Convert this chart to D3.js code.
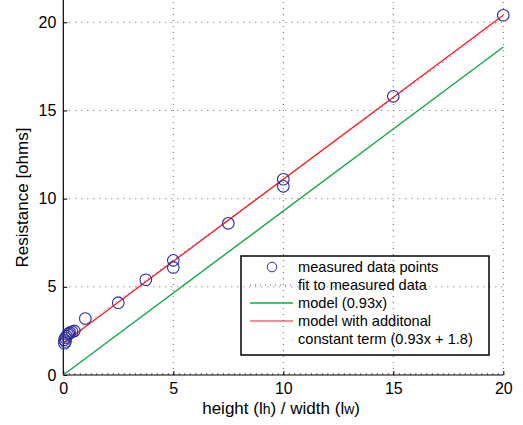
<!DOCTYPE html>
<html>
<head>
<meta charset="utf-8">
<script src="https://cdn.jsdelivr.net/npm/d3@7"></script>
<style>
  body { margin: 0; background: #fff; }
  svg { font-family: "Liberation Sans", Arial, sans-serif; }
</style>
</head>
<body>
<svg width="523" height="425"></svg>
<script>
// measured points (aspect ratio lh/lw, resistance in ohms)
const measX = [0.05, 0.05, 0.1, 0.1, 0.15, 0.2, 0.25, 0.3, 0.4, 0.5, 1, 2.5, 3.75, 5, 5, 7.5, 10, 10, 15, 20];
const measY = [1.8, 2.0, 1.9, 2.1, 2.2, 2.3, 2.35, 2.4, 2.45, 2.5, 3.2, 4.1, 5.4, 6.5, 6.1, 8.6, 11.1, 10.7, 15.8, 20.4];
const xTicks = [0, 5, 10, 15, 20];
const yTicks = [0, 5, 10, 15, 20];
const fitCoef = [0.915, 1.95]; // fit to measured data
const modelCoef = [0.93, 0]; // model (0.93x)
const modelConstCoef = [0.93, 1.8]; // with constant term
const legendLabels = ['measured data points', 'fit to measured data', 'model (0.93x)', 'model with additonal', 'constant term (0.93x + 1.8)'];

const svg = d3.select('svg');
const x = d3.scaleLinear().domain([0, 20]).range([63.3, 503.3]);
const y = d3.scaleLinear().domain([0, 20]).range([375, 22.3]);
const yTop = y.invert(0);

const grid = svg.append('g');
// dotted grid
grid.selectAll('.gx')
  .data(xTicks.filter(d => d > 0))
  .enter().append('line')
  .attr('x1', d => x(d)).attr('x2', d => x(d))
  .attr('y1', y(0)).attr('y2', y(yTop))
  .attr('stroke', '#666').attr('stroke-width', 1)
  .attr('stroke-dasharray', '1,5');
grid.selectAll('.gy')
  .data(yTicks.filter(d => d > 0))
  .enter().append('line')
  .attr('x1', x(0)).attr('x2', x(20))
  .attr('y1', d => y(d)).attr('y2', d => y(d))
  .attr('stroke', '#666').attr('stroke-width', 1)
  .attr('stroke-dasharray', '1,5');

// x axis with minor ticks
const xAxis = svg.append('g').attr('transform', `translate(0,${y(0)})`);
xAxis.call(d3.axisBottom(x).tickValues(d3.range(0, 20.01, 0.25)).tickSize(-2).tickFormat(''));
xAxis.select('.domain').remove();
xAxis.selectAll('line').attr('stroke', '#000').attr('stroke-width', 0.6);
const xMajor = svg.append('g').attr('transform', `translate(0,${y(0)})`);
xMajor.call(d3.axisBottom(x).tickValues(xTicks).tickSize(-4).tickPadding(8));
xMajor.select('.domain').remove();
xMajor.selectAll('text').attr('font-size', 16).attr('fill', '#000').attr('font-family', 'Liberation Sans, Arial, sans-serif');

const yAxis = svg.append('g').attr('transform', `translate(${x(0)},0)`);
yAxis.call(d3.axisLeft(y).tickValues(yTicks).tickSize(-4).tickPadding(7));
yAxis.select('.domain').remove();
yAxis.selectAll('text').attr('font-size', 16).attr('fill', '#000').attr('font-family', 'Liberation Sans, Arial, sans-serif');

// axis lines
svg.append('line').attr('x1', x(0)).attr('x2', x(20)).attr('y1', y(0)).attr('y2', y(0))
  .attr('stroke', '#000').attr('stroke-width', 1.2);
svg.append('line').attr('x1', x(0)).attr('x2', x(0)).attr('y1', y(0)).attr('y2', y(yTop))
  .attr('stroke', '#000').attr('stroke-width', 1.2);

const line = d3.line().x(d => x(d[0])).y(d => y(d[1]));
const linePts = c => [[0, c[1]], [20, c[0] * 20 + c[1]]];

svg.append('path').attr('d', line(linePts(modelCoef)))
  .attr('stroke', '#10a84a').attr('stroke-width', 1.4).attr('fill', 'none');
svg.append('path').attr('d', line(linePts(fitCoef)))
  .attr('stroke', '#5b5bd0').attr('stroke-width', 1).attr('stroke-dasharray', '1,4').attr('fill', 'none');
svg.append('path').attr('d', line(linePts(modelConstCoef)))
  .attr('stroke', '#ff1a1a').attr('stroke-width', 1.3).attr('fill', 'none');

svg.selectAll('.pt')
  .data(measX.map((d, i) => [d, measY[i]]))
  .enter().append('circle')
  .attr('cx', d => x(d[0])).attr('cy', d => y(d[1]))
  .attr('r', 5.8)
  .attr('fill', 'none').attr('stroke', '#2c2ea0').attr('stroke-width', 1.1);

// axis labels
svg.append('text')
  .attr('transform', `translate(28,${(y(0) + y(yTop)) / 2 + 10}) rotate(-90)`)
  .attr('text-anchor', 'middle').attr('font-size', 17)
  .text('Resistance [ohms]');
const xl = svg.append('text')
  .attr('x', x(9.9)).attr('y', 414)
  .attr('text-anchor', 'middle').attr('font-size', 17);
xl.append('tspan').text('height (l');
xl.append('tspan').attr('font-size', 14).text('h');
xl.append('tspan').text(') / width (l');
xl.append('tspan').attr('font-size', 14).text('w');
xl.append('tspan').text(')');

// legend
const leg = svg.append('g');
leg.append('rect').attr('x', 241).attr('y', 256).attr('width', 248).attr('height', 99)
  .attr('fill', 'none').attr('stroke', '#000').attr('stroke-width', 1.5);
const rowY = [267, 285, 303, 321, 339];
leg.selectAll('.lt')
  .data(legendLabels)
  .enter().append('text')
  .attr('x', 298).attr('y', (d, i) => rowY[i] + 5)
  .attr('font-size', 14.6)
  .text(d => d);
leg.append('circle').attr('cx', 272).attr('cy', rowY[0]).attr('r', 4.8)
  .attr('fill', 'none').attr('stroke', '#2c2ea0');
leg.append('line').attr('x1', 250).attr('x2', 293).attr('y1', rowY[1]).attr('y2', rowY[1])
  .attr('stroke', '#5b5bd0').attr('stroke-dasharray', '1,4');
leg.append('line').attr('x1', 250).attr('x2', 293).attr('y1', rowY[2]).attr('y2', rowY[2])
  .attr('stroke', '#10a84a').attr('stroke-width', 1.3);
leg.append('line').attr('x1', 250).attr('x2', 293).attr('y1', rowY[3]).attr('y2', rowY[3])
  .attr('stroke', '#ff1a1a').attr('stroke-width', 1.2);
</script>
</body>
</html>
